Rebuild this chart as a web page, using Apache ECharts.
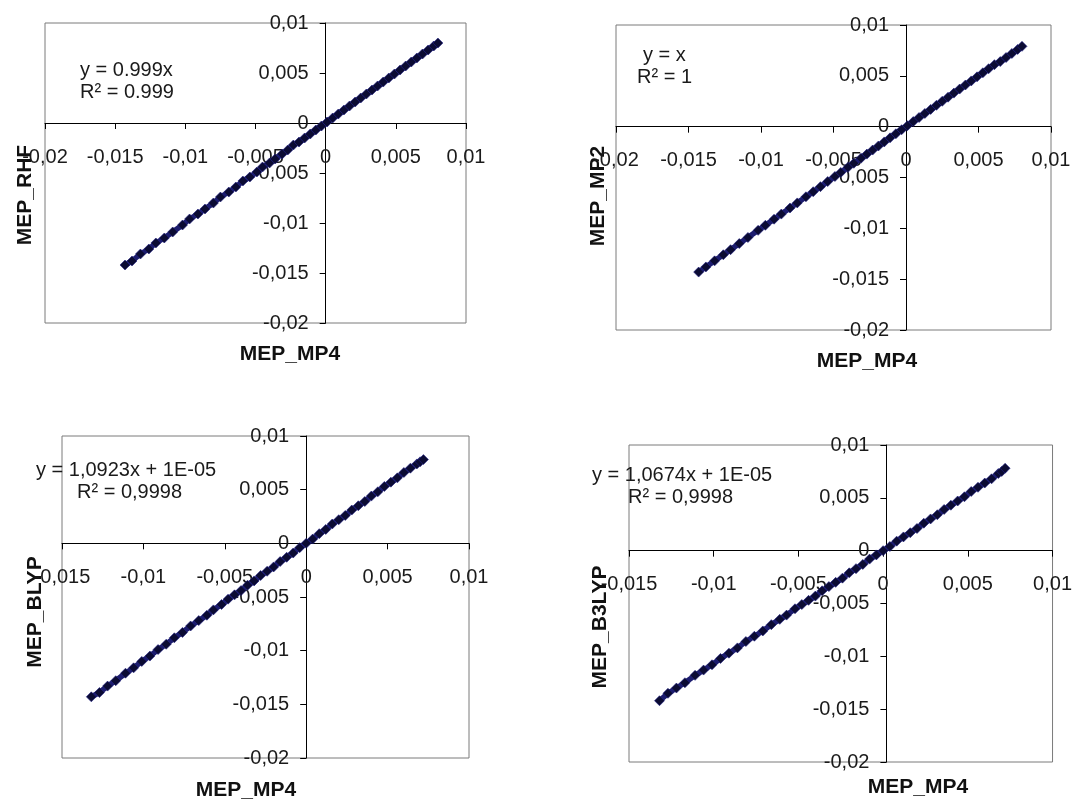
<!DOCTYPE html>
<html>
<head>
<meta charset="utf-8">
<script src="https://cdn.jsdelivr.net/npm/echarts@6/dist/echarts.min.js"></script>
<style>
  html, body { margin: 0; padding: 0; background: #fff; }
  #chart { width: 1075px; height: 802px; }
</style>
</head>
<body>
<div id="chart"></div>
<script>
// MEP values (upper pair of plots)
var mp4Top = [-0.0143, -0.0138, -0.0132, -0.0126, -0.0121, -0.0115, -0.0109, -0.0102, -0.0097, -0.0091,
  -0.0086, -0.0080, -0.0075, -0.0069, -0.0064, -0.0059, -0.0054, -0.0049, -0.0045, -0.0040,
  -0.0036, -0.0031, -0.0027, -0.0023, -0.0019, -0.0015, -0.0011, -0.0007, -0.0003, 0.0001,
  0.0005, 0.0009, 0.0013, 0.0017, 0.0021, 0.0025, 0.0029, 0.0033, 0.0037, 0.0041,
  0.0045, 0.0049, 0.0053, 0.0057, 0.0061, 0.0065, 0.0069, 0.0073, 0.0077, 0.0080];
var rhf = [-0.0142, -0.0138, -0.0131, -0.0126, -0.0120, -0.0115, -0.0109, -0.0102, -0.0096, -0.0091,
  -0.0086, -0.0080, -0.0074, -0.0069, -0.0064, -0.0058, -0.0054, -0.0049, -0.0044, -0.0040,
  -0.0036, -0.0031, -0.0027, -0.0022, -0.0019, -0.0015, -0.0011, -0.0007, -0.0003, 0.0001,
  0.0005, 0.0009, 0.0013, 0.0017, 0.0021, 0.0025, 0.0029, 0.0033, 0.0037, 0.0041,
  0.0045, 0.0049, 0.0053, 0.0057, 0.0061, 0.0065, 0.0069, 0.0073, 0.0077, 0.0080];
var mp2 = [-0.0143, -0.0138, -0.0132, -0.0126, -0.0121, -0.0115, -0.0109, -0.0102, -0.0097, -0.0091,
  -0.0086, -0.0080, -0.0075, -0.0069, -0.0064, -0.0059, -0.0054, -0.0049, -0.0045, -0.0040,
  -0.0036, -0.0031, -0.0027, -0.0023, -0.0019, -0.0015, -0.0011, -0.0007, -0.0003, 0.0001,
  0.0005, 0.0009, 0.0013, 0.0017, 0.0021, 0.0025, 0.0029, 0.0033, 0.0037, 0.0041,
  0.0045, 0.0049, 0.0053, 0.0057, 0.0061, 0.0064, 0.0068, 0.0072, 0.0076, 0.0079];

// lower pair of plots
var mp4Bottom = [-0.0132, -0.0127, -0.0122, -0.0117, -0.0111, -0.0106, -0.0101, -0.0096, -0.0091, -0.0086,
  -0.0081, -0.0076, -0.0071, -0.0066, -0.0061, -0.0057, -0.0052, -0.0048, -0.0044, -0.0040,
  -0.0036, -0.0032, -0.0028, -0.0024, -0.0020, -0.0016, -0.0012, -0.0008, -0.0004, 0.0000,
  0.0004, 0.0008, 0.0012, 0.0016, 0.0020, 0.0024, 0.0028, 0.0032, 0.0036, 0.0040,
  0.0044, 0.0048, 0.0052, 0.0056, 0.0060, 0.0064, 0.0068, 0.0070, 0.0072];
var blyp = [-0.0143, -0.0139, -0.0133, -0.0128, -0.0121, -0.0116, -0.0110, -0.0105, -0.0099, -0.0094,
  -0.0088, -0.0083, -0.0077, -0.0072, -0.0067, -0.0062, -0.0057, -0.0052, -0.0048, -0.0044,
  -0.0039, -0.0035, -0.0030, -0.0026, -0.0022, -0.0017, -0.0013, -0.0009, -0.0004, 0.0000,
  0.0004, 0.0009, 0.0013, 0.0018, 0.0022, 0.0026, 0.0031, 0.0035, 0.0039, 0.0044,
  0.0048, 0.0053, 0.0057, 0.0061, 0.0066, 0.0070, 0.0074, 0.0076, 0.0078];
var b3lyp = [-0.0142, -0.0135, -0.0130, -0.0125, -0.0118, -0.0113, -0.0108, -0.0102, -0.0097, -0.0092,
  -0.0086, -0.0081, -0.0076, -0.0070, -0.0065, -0.0061, -0.0055, -0.0051, -0.0047, -0.0043,
  -0.0038, -0.0034, -0.0030, -0.0026, -0.0021, -0.0017, -0.0013, -0.0008, -0.0004, 0.0000,
  0.0004, 0.0009, 0.0013, 0.0017, 0.0021, 0.0026, 0.0030, 0.0034, 0.0039, 0.0043,
  0.0047, 0.0051, 0.0056, 0.0060, 0.0064, 0.0068, 0.0073, 0.0075, 0.0078];

var xTitle = 'MEP_MP4';
var yTitles = ['MEP_RHF', 'MEP_MP2', 'MEP_BLYP', 'MEP_B3LYP'];
var equations = [
  ['y = 0.999x', 'R² = 0.999'],
  ['y = x', 'R² = 1'],
  ['y = 1,0923x + 1E-05', 'R² = 0,9998'],
  ['y = 1,0674x + 1E-05', 'R² = 0,9998']
];
var xMins = [-0.02, -0.02, -0.015, -0.015];
var xMax = 0.01, yMin = -0.02, yMax = 0.01;

// plot areas (px)
var grids = [
  { left: 45, top: 23, width: 421, height: 300 },
  { left: 616, top: 25, width: 435, height: 305 },
  { left: 62, top: 436, width: 407, height: 322 },
  { left: 629, top: 445, width: 429, height: 317 }
];
var pairs = [[mp4Top, rhf], [mp4Top, mp2], [mp4Bottom, blyp], [mp4Bottom, b3lyp]];

function fmt(v) {
  return String(Number(v.toFixed(4))).replace('.', ',');
}

var labelStyle = { fontFamily: 'Liberation Sans, Arial, sans-serif', fontSize: 20, color: '#1a1a1a' };

var xAxes = [], yAxes = [], series = [];
for (var i = 0; i < 4; i++) {
  var g = grids[i];
  // axes cross at zero, Excel style: shift whole axis (line, ticks, labels) onto the zero line
  var xOff = -g.height * (0 - yMin) / (yMax - yMin);
  var yOff = -g.width * (0 - xMins[i]) / (xMax - xMins[i]);
  xAxes.push({
    type: 'value', gridIndex: i, min: xMins[i], max: xMax, interval: 0.005,
    position: 'bottom', offset: xOff,
    axisLine: { onZero: false, lineStyle: { color: '#000', width: 1 } },
    axisTick: { length: 6, lineStyle: { color: '#000', width: 1 } },
    axisLabel: Object.assign({ margin: 24, formatter: fmt }, labelStyle),
    splitLine: { show: false }
  });
  yAxes.push({
    type: 'value', gridIndex: i, min: yMin, max: yMax, interval: 0.005,
    position: 'left', offset: yOff,
    axisLine: { onZero: false, lineStyle: { color: '#000', width: 1 } },
    axisTick: { length: 6, lineStyle: { color: '#000', width: 1 } },
    axisLabel: Object.assign({ margin: 17, formatter: fmt }, labelStyle),
    splitLine: { show: false }
  });
  var pts = [];
  for (var j = 0; j < pairs[i][0].length; j++) {
    pts.push([pairs[i][0][j], pairs[i][1][j]]);
  }
  series.push({
    type: 'line', xAxisIndex: i, yAxisIndex: i, data: pts,
    symbol: 'diamond', symbolSize: 10, showSymbol: true,
    lineStyle: { color: '#1c1c6e', width: 5.5 },
    itemStyle: { color: '#0b0b33', borderColor: '#24248a', borderWidth: 0.6 },
    animation: false
  });
}

// axis titles and trendline labels
var titlePos = [[290, 354], [867, 361], [246, 790], [918, 787]];
var yTitlePos = [[25, 195], [598, 196], [35, 612], [600, 627]];
var eqPos = [[[80, 70], [80, 92]], [[643, 55], [637, 77]], [[36, 470], [77, 492]], [[592, 475], [628, 497]]];
var graphics = [];
for (var k = 0; k < 4; k++) {
  graphics.push({
    type: 'text', x: titlePos[k][0], y: titlePos[k][1],
    style: { text: xTitle, align: 'center', verticalAlign: 'middle',
      font: 'bold 21px "Liberation Sans", Arial, sans-serif', fill: '#111' }
  });
  graphics.push({
    type: 'text', x: yTitlePos[k][0], y: yTitlePos[k][1], rotation: Math.PI / 2,
    style: { text: yTitles[k], align: 'center', verticalAlign: 'middle',
      font: 'bold 21px "Liberation Sans", Arial, sans-serif', fill: '#111' }
  });
  for (var m = 0; m < 2; m++) {
    graphics.push({
      type: 'text', x: eqPos[k][m][0], y: eqPos[k][m][1],
      style: { text: equations[k][m], align: 'left', verticalAlign: 'middle',
        font: '20px "Liberation Sans", Arial, sans-serif', fill: '#1a1a1a' }
    });
  }
}

var myChart = echarts.init(document.getElementById('chart'));
var option = {
  backgroundColor: '#fff',
  animation: false,
  grid: grids.map(function (g) {
    return Object.assign({ show: true, borderColor: '#7a7a7a', borderWidth: 1, backgroundColor: 'transparent' }, g);
  }),
  xAxis: xAxes,
  yAxis: yAxes,
  series: series,
  graphic: graphics
};
myChart.setOption(option);
</script>
</body>
</html>
